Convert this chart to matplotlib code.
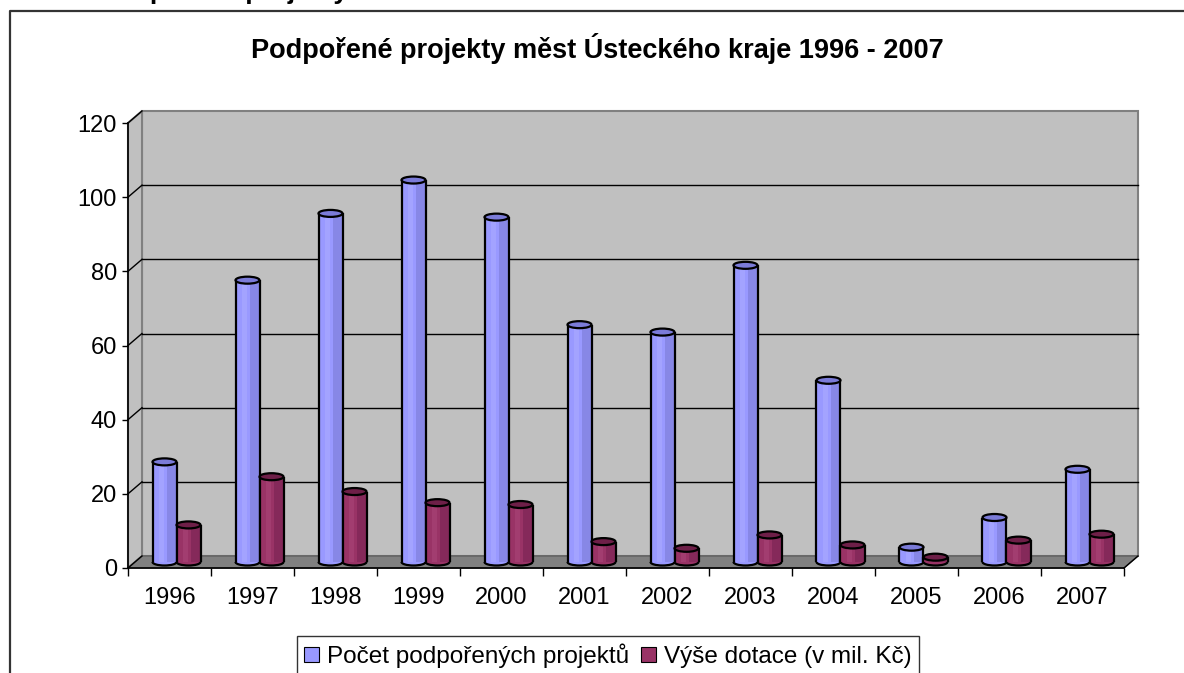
import matplotlib
matplotlib.use("Agg")
import matplotlib.pyplot as plt
from matplotlib.patches import Polygon, Ellipse, Arc, Rectangle, Patch
from matplotlib.lines import Line2D

plt.rcParams['font.family'] = ['Liberation Sans', 'DejaVu Sans']

# ---------------- data ----------------
years = ['1996', '1997', '1998', '1999', '2000', '2001', '2002', '2003',
         '2004', '2005', '2006', '2007']
projects = [27, 76, 94, 103, 93, 64, 62, 80, 49, 4, 12, 25]
subsidy = [10, 23, 19, 16, 15.5, 5.5, 3.7, 7.3, 4.6, 1.3, 5.9, 7.5]
series_names = ['Počet podpořených projektů', 'Výše dotace (v mil. Kč)']
yticks = [0, 20, 40, 60, 80, 100, 120]
title = 'Podpořené projekty měst Ústeckého kraje 1996 - 2007'

# ---------------- layout ----------------
W, H = 1184, 673
fig = plt.figure(figsize=(W / 100, H / 100), dpi=100)
fig.patch.set_facecolor('white')

x0, x1, y0, y1 = 128, 1124, 568, 123   # front plot box in pixels
ax = fig.add_axes([x0 / W, (H - y0) / H, (x1 - x0) / W, (y0 - y1) / H])
n = len(years)
ymax = 120
ax.set_xlim(0, n)
ax.set_ylim(0, ymax)
ax.patch.set_visible(False)

px_x = (x1 - x0) / n          # pixels per category
px_y = (y0 - y1) / ymax       # pixels per unit
DX = 14 / px_x                # depth offset in data units
DY = 12 / px_y

wall_c = '#c0c0c0'
floor_c = '#808080'
edge_c = '#808080'

# back wall
ax.add_patch(Rectangle((DX, DY), n, ymax, facecolor=wall_c, edgecolor=edge_c,
                       lw=1.5, clip_on=False, zorder=0))
# side wall
ax.add_patch(Polygon([(0, 0), (0, ymax), (DX, ymax + DY), (DX, DY)], closed=True,
                     facecolor=wall_c, edgecolor=edge_c, lw=1.5, clip_on=False, zorder=0.5))
# floor
ax.add_patch(Polygon([(0, 0), (n, 0), (n + DX, DY), (DX, DY)], closed=True,
                     facecolor=floor_c, edgecolor='#606060', lw=1, clip_on=False, zorder=0.6))
ax.plot([n, n + DX], [0, DY], color='black', lw=1, clip_on=False, zorder=0.7)

# gridlines on back wall + diagonals on side wall
for v in yticks[1:-1]:
    ax.plot([DX, n + DX], [v + DY, v + DY], color='black', lw=1, clip_on=False, zorder=0.8)
for v in yticks:
    ax.plot([0, DX], [v, v + DY], color='black', lw=1, clip_on=False, zorder=0.8)

# ---------------- cylinders ----------------
bw = 24 / px_x
eh = 7 / px_y
series = [
    (projects, '#9999ff', '#8787e6', '#a3a3ff', '#7b7bd8', -1),
    (subsidy, '#993366', '#85295a', '#a23d70', '#6e1f48', 1),
]
for vals, base, dark, light, topc, side in series:
    for i, v in enumerate(vals):
        cx = i + 0.5 + DX / 2 + side * bw / 2
        b = DY / 2
        left = cx - bw / 2
        z = 2 + i * 0.01 + (0.005 if side > 0 else 0)
        # bottom ellipse (lower half visible)
        ax.add_patch(Ellipse((cx, b), bw, eh, facecolor=base, edgecolor='none',
                             clip_on=False, zorder=z))
        ax.add_patch(Arc((cx, b), bw, eh, theta1=180, theta2=360, color='black',
                         lw=1.6, clip_on=False, zorder=z + 0.003))
        # body
        ax.bar(cx, v, width=bw, bottom=b, color=base, edgecolor='none',
               clip_on=False, zorder=z + 0.001)
        ax.bar(cx + bw * 0.3, v, width=bw * 0.4, bottom=b, color=dark,
               edgecolor='none', clip_on=False, zorder=z + 0.0015)
        ax.bar(cx - bw * 0.12, v, width=bw * 0.18, bottom=b, color=light,
               edgecolor='none', clip_on=False, zorder=z + 0.0015)
        ax.plot([left, left], [b, b + v], color='black', lw=1.6, clip_on=False,
                zorder=z + 0.003, solid_capstyle='butt')
        ax.plot([left + bw, left + bw], [b, b + v], color='black', lw=1.6,
                clip_on=False, zorder=z + 0.003, solid_capstyle='butt')
        # top ellipse
        ax.add_patch(Ellipse((cx, b + v), bw, eh, facecolor=topc, edgecolor='black',
                             lw=1.6, clip_on=False, zorder=z + 0.004))

# ---------------- axes / ticks ----------------
for s in ['top', 'right']:
    ax.spines[s].set_visible(False)
for s in ['left', 'bottom']:
    ax.spines[s].set_color('black')
    ax.spines[s].set_linewidth(1.2)
    ax.spines[s].set_zorder(5)
ax.set_yticks(yticks)
ax.set_yticklabels([str(t) for t in yticks])
ax.set_xticks(range(n + 1))
ax.set_xticklabels([])
ax.set_xticks([i + 0.5 for i in range(n)], minor=True)
ax.set_xticklabels(years, minor=True)
ax.tick_params(axis='y', length=4, width=1, pad=4, labelsize=17, colors='black')
ax.tick_params(axis='x', which='major', length=6, width=1, direction='out')
ax.tick_params(axis='x', which='minor', length=0, pad=14, labelsize=17)

# ---------------- texts ----------------
fig.text(597 / W, 1 - 48 / H, title, ha='center', va='center',
         fontsize=19.5, fontweight='bold')
fig.text(100 / W, 1 + 1.5 / H, 'Podpořené projekty', ha='left', va='baseline',
         fontsize=19, fontweight='bold')

# outer chart-area border
fig.add_artist(Line2D([9.5 / W, 9.5 / W, 1.0], [0.0, 1 - 11 / H, 1 - 11 / H],
                      transform=fig.transFigure, color='#333333', lw=1.6))

# legend
handles = [Patch(facecolor='#9999ff', edgecolor='black', lw=0.8),
           Patch(facecolor='#993366', edgecolor='black', lw=0.8)]
leg = fig.legend(handles, series_names, loc='upper center',
                 bbox_to_anchor=(608 / W, 1 - 636 / H), ncol=2, fontsize=17.5,
                 frameon=True, fancybox=False, edgecolor='black', handlelength=0.6,
                 handleheight=0.6, handletextpad=0.35, columnspacing=0.5,
                 borderpad=0.3, borderaxespad=0)
leg.get_frame().set_linewidth(1.0)

fig.savefig('out.png', dpi=100)
